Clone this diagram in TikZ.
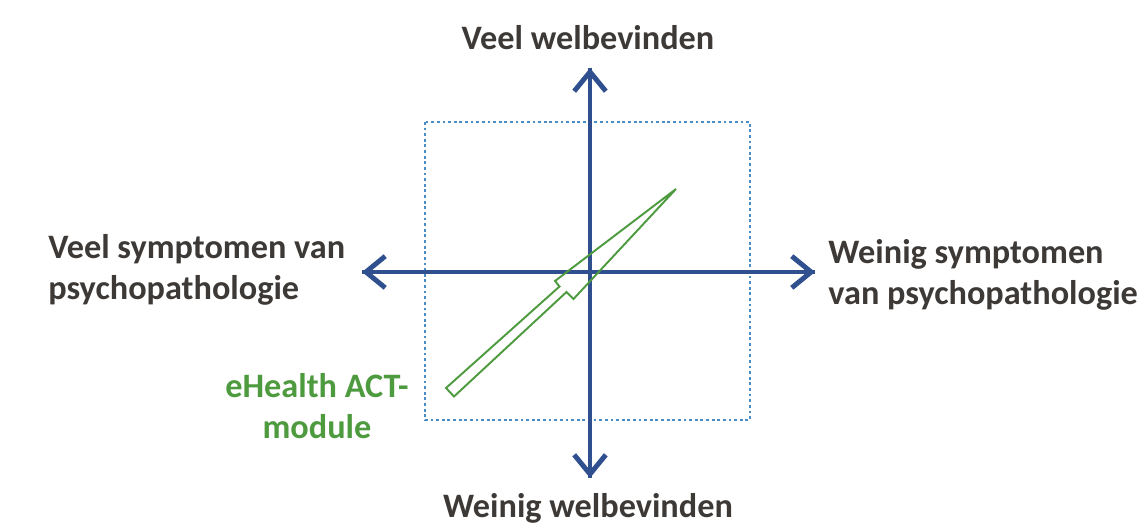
\documentclass[tikz,border=0pt]{standalone}
\usepackage{fontspec}
\setmainfont{Carlito}
\usepackage{xcolor}
\usetikzlibrary{arrows.meta}

\definecolor{axisblue}{HTML}{2F4F8F}
\definecolor{boxblue}{HTML}{4A8CC6}
\definecolor{actgreen}{HTML}{4E9A3F}
\definecolor{labelgray}{HTML}{3D3936}

\begin{document}
\begin{tikzpicture}[x=0.02cm,y=-0.02cm,
    axis/.style={line width=2.8pt,axisblue,-{Straight Barb[length=11pt,width=18pt,line width=2.8pt]}},
    frame/.style={boxblue,line width=1pt,dash pattern=on 1.6pt off 1.6pt},
    arrowshape/.style={actgreen,line width=1.1pt,line join=miter},
    lbl/.style={font=\fontsize{19.5}{23.5}\selectfont\bfseries,text=labelgray,inner sep=0pt},
    actlbl/.style={lbl,text=actgreen,align=center}]
    \useasboundingbox (0,0) rectangle (1143,527);

    % dotted frame
    \draw[frame] (425,122) rectangle (750,420);

    % axis ends
    \coordinate (top) at (590,68);
    \coordinate (bottom) at (590,478);
    \coordinate (left) at (362,272);
    \coordinate (right) at (815,272);

    \draw[axis] (bottom) -- (top);
    \draw[axis] (top) -- (bottom);
    \draw[axis] (right) -- (left);
    \draw[axis] (left) -- (right);

    % green arrow
    \draw[arrowshape] (446,388) -- (559.5,286.5) -- (555,281) -- (676,189)
        -- (573.5,299) -- (566.5,292) -- (454,396.5) -- cycle;

    % labels
    \node[lbl] (wellhigh) at (588,38) {Veel welbevinden};
    \node[lbl] (welllow) at (588,508) {Weinig welbevinden};
    \node[lbl,anchor=west,align=left] (symphigh) at (48,270) {Veel symptomen van\\psychopathologie};
    \node[lbl,anchor=west,align=left] (symplow) at (828,275) {Weinig symptomen\\van psychopathologie};
    \node[actlbl] (act) at (317,406) {eHealth ACT-\\module};
\end{tikzpicture}
\end{document}
